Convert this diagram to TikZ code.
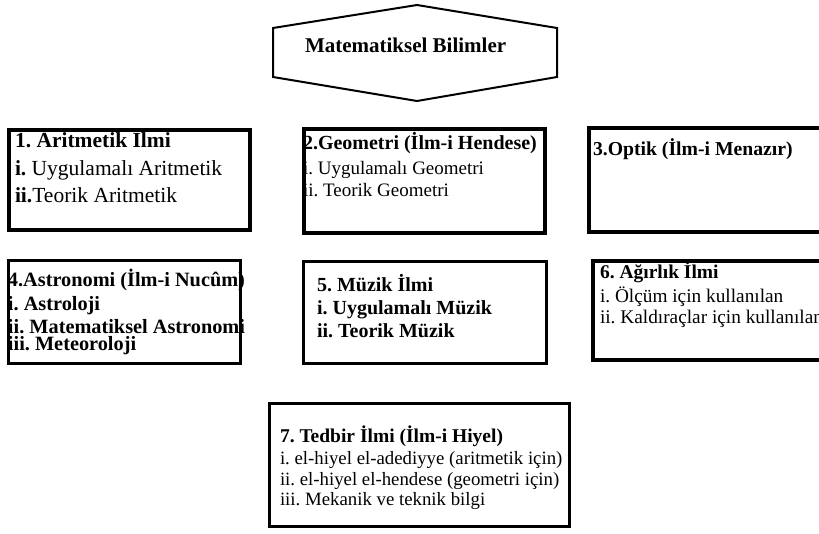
\documentclass[tikz,border=0pt]{standalone}
\usepackage{fontspec}
\setmainfont{Liberation Serif}
\frenchspacing
\begin{document}
\begin{tikzpicture}[x=1pt,y=-1pt,
  boxa/.style={draw=black,fill=none,rectangle,inner sep=0pt,anchor=north west},
  txt/.style={anchor=base west,inner sep=0pt,outer sep=0pt,text=black,execute at begin node=\frenchspacing},
  hexline/.style={draw=black,line width=2pt,line join=miter}]
\clip (0,0) rectangle (819,533);
\fill[white] (0,0) rectangle (819,533);
% title hexagon
\coordinate (h1) at (273,28);
\coordinate (h2) at (417,5);
\coordinate (h3) at (557,28);
\coordinate (h4) at (557,77);
\coordinate (h5) at (417,101);
\coordinate (h6) at (273,77);
\draw[hexline] (h1) -- (h2) -- (h3) -- (h4) -- (h5) -- (h6) -- cycle;
\node[txt] (title) at (305,52) {\fontsize{21}{25}\selectfont\bfseries Matematiksel Bilimler};
% box 1
\node[boxa,line width=4pt,minimum width=241pt,minimum height=100pt] (b1) at (7,128) {};
\node[txt] (b1a) at (15,147) {\fontsize{21.5}{26}\selectfont\bfseries 1. Aritmetik Ilmi};
\node[txt] (b1b) at (15,175) {\fontsize{21.5}{26}\selectfont\textbf{i.} Uygulamalı Aritmetik};
\node[txt] (b1c) at (15,202) {\fontsize{21.5}{26}\selectfont\textbf{ii.}Teorik Aritmetik};
% box 2
\node[boxa,line width=3.5pt,minimum width=241pt,minimum height=104pt] (b2) at (302,127) {};
\node[txt] (b2a) at (303,149) {\fontsize{20}{24}\selectfont\bfseries 2.Geometri (İlm-i Hendese)};
\node[txt] (b2b) at (303,174) {\fontsize{19}{23}\selectfont i. Uygulamalı Geometri};
\node[txt] (b2c) at (303,196) {\fontsize{19}{23}\selectfont ii. Teorik Geometri};
% box 3
\node[boxa,line width=3.5pt,minimum width=243pt,minimum height=104pt] (b3) at (587,126) {};
\node[txt] (b3a) at (593,155) {\fontsize{19.7}{24}\selectfont\bfseries 3.Optik (İlm-i Menazır)};
% box 4
\node[boxa,line width=2.5pt,minimum width=232pt,minimum height=103pt] (b4) at (7,259) {};
\node[txt] (b4a) at (8,286) {\fontsize{20.3}{24}\selectfont\bfseries 4.Astronomi (İlm-i Nucûm)};
\node[txt] (b4b) at (8,310) {\fontsize{20.3}{24}\selectfont\bfseries i. Astroloji};
\node[txt] (b4c) at (8,333) {\fontsize{20.3}{24}\selectfont\bfseries ii. Matematiksel Astronomi};
\node[txt] (b4d) at (8,350) {\fontsize{20.3}{24}\selectfont\bfseries iii. Meteoroloji};
% box 5
\node[boxa,line width=3pt,minimum width=243pt,minimum height=102pt] (b5) at (302,260) {};
\node[txt] (b5a) at (317,291) {\fontsize{20}{24}\selectfont\bfseries 5. Müzik İlmi};
\node[txt] (b5b) at (317,314) {\fontsize{20}{24}\selectfont\bfseries i. Uygulamalı Müzik};
\node[txt] (b5c) at (317,337) {\fontsize{20}{24}\selectfont\bfseries ii. Teorik Müzik};
% box 6
\node[boxa,line width=3.5pt,minimum width=239pt,minimum height=99pt] (b6) at (591,259) {};
\node[txt] (b6a) at (600,278) {\fontsize{19.5}{23}\selectfont\bfseries 6. Ağırlık İlmi};
\node[txt] (b6b) at (600,302) {\fontsize{19.3}{23}\selectfont i. Ölçüm için kullanılan};
\node[txt] (b6c) at (600,323) {\fontsize{19.3}{23}\selectfont ii. Kaldıraçlar için kullanılan};
% box 7
\node[boxa,line width=3pt,minimum width=300pt,minimum height=123pt] (b7) at (268,402) {};
\node[txt] (b7a) at (280,442) {\fontsize{19.5}{23}\selectfont\bfseries 7. Tedbir İlmi (İlm-i Hiyel)};
\node[txt] (b7b) at (280,464) {\fontsize{18.8}{22}\selectfont i. el-hiyel el-adediyye (aritmetik için)};
\node[txt] (b7c) at (280,485) {\fontsize{18.8}{22}\selectfont ii. el-hiyel el-hendese (geometri için)};
\node[txt] (b7d) at (280,505) {\fontsize{18.8}{22}\selectfont iii. Mekanik ve teknik bilgi};
\end{tikzpicture}
\end{document}
